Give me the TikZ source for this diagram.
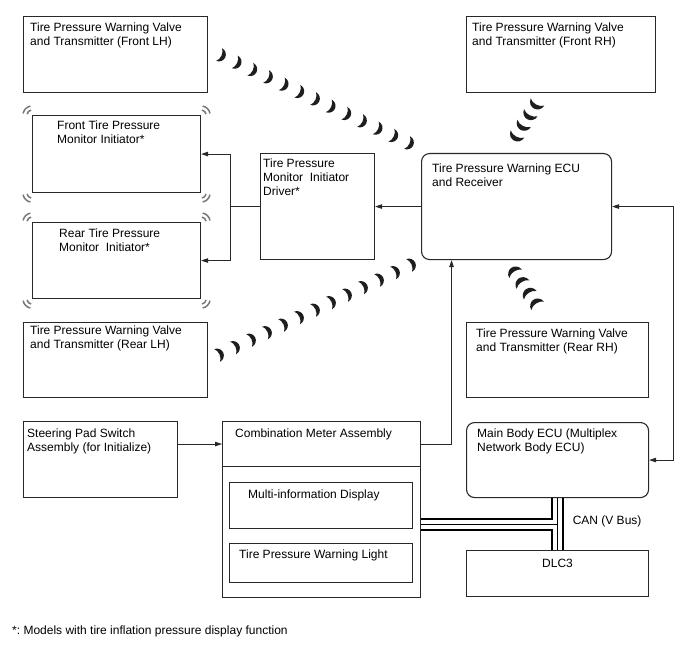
\documentclass[tikz,border=0pt]{standalone}
\usepackage{fontspec}
\setmainfont{Liberation Sans}
\usetikzlibrary{arrows.meta,calc}
\frenchspacing

\begin{document}
\begin{tikzpicture}[x=1pt, y=-1pt, >={Triangle[length=7pt,width=4.5pt]},
    every node/.style={font=\fontsize{12}{14}\selectfont}]
    % Define colors
    \definecolor{linegray}{RGB}{40, 40, 40}
    \definecolor{radiogray}{RGB}{120, 120, 120}
    \definecolor{wavegray}{RGB}{30, 30, 30}

    % Styles
    \tikzstyle{unit_box} = [draw=linegray, line width=1.1pt, anchor=north west, inner sep=0pt]
    \tikzstyle{ecu_box} = [unit_box, rounded corners=8pt]
    \tikzstyle{box_text} = [anchor=north west, inner sep=0pt, align=left]
    \tikzstyle{sig_line} = [draw=linegray, line width=0.9pt]
    \tikzstyle{bus_line} = [draw=black, line width=1.6pt]
    \tikzset{
        radio/.pic={\draw[radiogray, line width=1.5pt] (-35:5) arc[start angle=-35, end angle=35, radius=5]
            (-35:9) arc[start angle=-35, end angle=35, radius=9];},
        crescent/.pic={\fill[wavegray] (-1,-7) .. controls (8,-6) and (8,6) .. (-1,7)
            .. controls (2.5,3.5) and (2.5,-3.5) .. (-1,-7) -- cycle;}
    }

    \useasboundingbox (0,0) rectangle (688,658);

    % Valves and transmitters
    \node[unit_box, minimum width=184pt, minimum height=76pt] (flh) at (23,16) {};
    \node[box_text] (flh_t) at ([shift={(7,6.5)}]flh.north west) {Tire Pressure Warning Valve\\and Transmitter (Front LH)};
    \node[unit_box, minimum width=189pt, minimum height=76pt] (frh) at (466,16) {};
    \node[box_text] (frh_t) at ([shift={(6,6.5)}]frh.north west) {Tire Pressure Warning Valve\\and Transmitter (Front RH)};
    \node[unit_box, minimum width=184pt, minimum height=75pt] (rlh) at (23,322) {};
    \node[box_text] (rlh_t) at ([shift={(7,3.5)}]rlh.north west) {Tire Pressure Warning Valve\\and Transmitter (Rear LH)};
    \node[unit_box, minimum width=182pt, minimum height=75pt] (rrh) at (466,322) {};
    \node[box_text] (rrh_t) at ([shift={(10,6.5)}]rrh.north west) {Tire Pressure Warning Valve\\and Transmitter (Rear RH)};

    % Initiators and driver
    \node[unit_box, minimum width=168pt, minimum height=77pt] (finit) at (32,115) {};
    \node[box_text] (finit_t) at ([shift={(25,5.5)}]finit.north west) {Front Tire Pressure\\Monitor Initiator*};
    \node[unit_box, minimum width=168pt, minimum height=76pt] (rinit) at (32,222) {};
    \node[box_text] (rinit_t) at ([shift={(27,6.5)}]rinit.north west) {Rear Tire Pressure\\Monitor\ \ Initiator*};
    \node[unit_box, minimum width=114pt, minimum height=106pt] (drv) at (260,153) {};
    \node[box_text] (drv_t) at ([shift={(3,5.5)}]drv.north west) {Tire Pressure\\Monitor\ \ Initiator\\Driver*};

    % ECUs
    \node[ecu_box, minimum width=190pt, minimum height=106pt] (ecu) at (421,153) {};
    \node[box_text] (ecu_t) at ([shift={(11,10.5)}]ecu.north west) {Tire Pressure Warning ECU\\and Receiver};
    \node[ecu_box, minimum width=182pt, minimum height=75pt] (mbecu) at (466,422) {};
    \node[box_text] (mbecu_t) at ([shift={(11,6.5)}]mbecu.north west) {Main Body ECU (Multiplex\\Network Body ECU)};
    \node[unit_box, minimum width=182pt, minimum height=46pt] (dlc) at (466,550) {};
    \node[box_text, anchor=north] (dlc_t) at ([shift={(0,8.5)}]dlc.north) {DLC3};

    % Switch and meter
    \node[unit_box, minimum width=154pt, minimum height=76pt] (steer) at (23,421) {};
    \node[box_text] (steer_t) at ([shift={(4,7.5)}]steer.north west) {Steering Pad Switch\\Assembly (for Initialize)};
    \node[unit_box, minimum width=198pt, minimum height=176pt] (meter) at (222,421) {};
    \node[unit_box, minimum width=198pt, minimum height=45pt] (mhead) at (222,421) {};
    \node[box_text] (mhead_t) at ([shift={(13,7.5)}]mhead.north west) {Combination Meter Assembly};
    \node[unit_box, minimum width=183pt, minimum height=46pt] (mid) at (229,482) {};
    \node[box_text] (mid_t) at ([shift={(19,7.5)}]mid.north west) {Multi-information Display};
    \node[unit_box, minimum width=183pt, minimum height=39pt] (twl) at (229,543) {};
    \node[box_text] (twl_t) at ([shift={(10,6.5)}]twl.north west) {Tire Pressure Warning Light};

    % Radio marks on initiators
    \foreach \b in {finit, rinit} {
        \pic[rotate=135] at (\b.north west) {radio};
        \pic[rotate=45] at (\b.north east) {radio};
        \pic[rotate=-135] at (\b.south west) {radio};
        \pic[rotate=-45] at (\b.south east) {radio};
    }

    % Radio waves
    \coordinate (flh_w0) at (220,55);  \coordinate (flh_w1) at (408,143);
    \coordinate (rlh_w0) at (218,355); \coordinate (rlh_w1) at (410,265);
    \coordinate (frh_w0) at (537,103); \coordinate (frh_w1) at (517,135);
    \coordinate (rrh_w0) at (537,305); \coordinate (rrh_w1) at (515,273);
    \foreach \i in {0,...,12} {
        \pic[rotate=-25] at ($(flh_w0)!\i/12!(flh_w1)$) {crescent};
        \pic[rotate=25] at ($(rlh_w0)!\i/12!(rlh_w1)$) {crescent};
    }
    \foreach \i in {0,...,3} {
        \pic[rotate=-118, scale=1.1] at ($(frh_w0)!\i/3!(frh_w1)$) {crescent};
        \pic[rotate=124, scale=1.1] at ($(rrh_w0)!\i/3!(rrh_w1)$) {crescent};
    }

    % Signal lines
    \draw[sig_line, ->] (ecu.west) -- (drv.east);
    \draw[sig_line, ->] (drv.west) -| ([xshift=29pt]finit.east) -- (finit.east);
    \draw[sig_line, ->] (drv.west) -| ([xshift=29pt]rinit.east) -- (rinit.east);
    \draw[sig_line, <->] (ecu.east) -- ++(61,0) |- (mbecu.east);
    \draw[sig_line, ->] (mhead.east) -| ([xshift=-65pt]ecu.south);
    \draw[sig_line, ->] (steer.east |- mhead.west) -- (mhead.west);

    % CAN bus
    \draw[bus_line] ([yshift=-9.3pt]meter.east) -| ([xshift=-5.3pt]mbecu.south);
    \draw[bus_line] ([yshift=-20.3pt]meter.east) -| ([xshift=-5.3pt]dlc.north);
    \draw[bus_line] ([yshift=-15pt]meter.east) -| (dlc.north);
    \draw[bus_line] (mbecu.south) -- (dlc.north);
    \draw[bus_line] ([xshift=5.3pt]mbecu.south) -- ([xshift=5.3pt]dlc.north);
    \node[box_text] (can_t) at ([shift={(15,17.5)}]mbecu.south) {CAN (V Bus)};

    % Note
    \node[box_text] (note) at (12,625.5) {*: Models with tire inflation pressure display function};
\end{tikzpicture}
\end{document}
